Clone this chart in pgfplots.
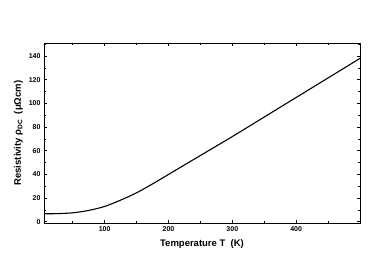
\documentclass[border=0pt]{standalone}
\usepackage{fontspec}
\setmainfont{Liberation Sans}
\usepackage{pgfplots}
\pgfplotsset{compat=1.18}
\begin{document}
\begin{tikzpicture}
\begin{axis}[
  at={(0pt,0pt)}, anchor=south west,
  scale only axis, width=316pt, height=180pt,
  xmin=5, xmax=500, ymin=-1, ymax=151,
  xtick={100,200,300,400}, minor xtick={50,150,250,350,450},
  ytick={0,20,...,140}, minor ytick={10,30,...,150},
  tick align=inside, major tick length=3pt, minor tick length=2pt,
  axis line style={line width=0.9pt}, every tick/.style={line width=0.7pt, black},
  tick label style={font=\fontsize{7}{8}\selectfont\bfseries},
  /pgf/number format/assume math mode=true,
  xlabel={Temperature T\ \ (K)},
  ylabel={Resistivity ρ\textsubscript{DC}\ \ (μΩcm)},
  label style={font=\fontsize{9.5}{11}\selectfont\bfseries},
  xlabel style={yshift=-1pt},
  ylabel style={yshift=-1pt},
]
\addplot[black, line width=1.1pt, smooth] coordinates {
(5,6.8) (25,6.9) (50,7.6) (75,9.6) (100,13) (125,18.3) (150,24.5) (175,32)
(200,40) (250,56) (300,72) (350,88.5) (400,105) (450,121.5) (500,138)
};
\end{axis}
\path (-44pt,-53pt) rectangle (338pt,223pt);
\end{tikzpicture}
\end{document}
